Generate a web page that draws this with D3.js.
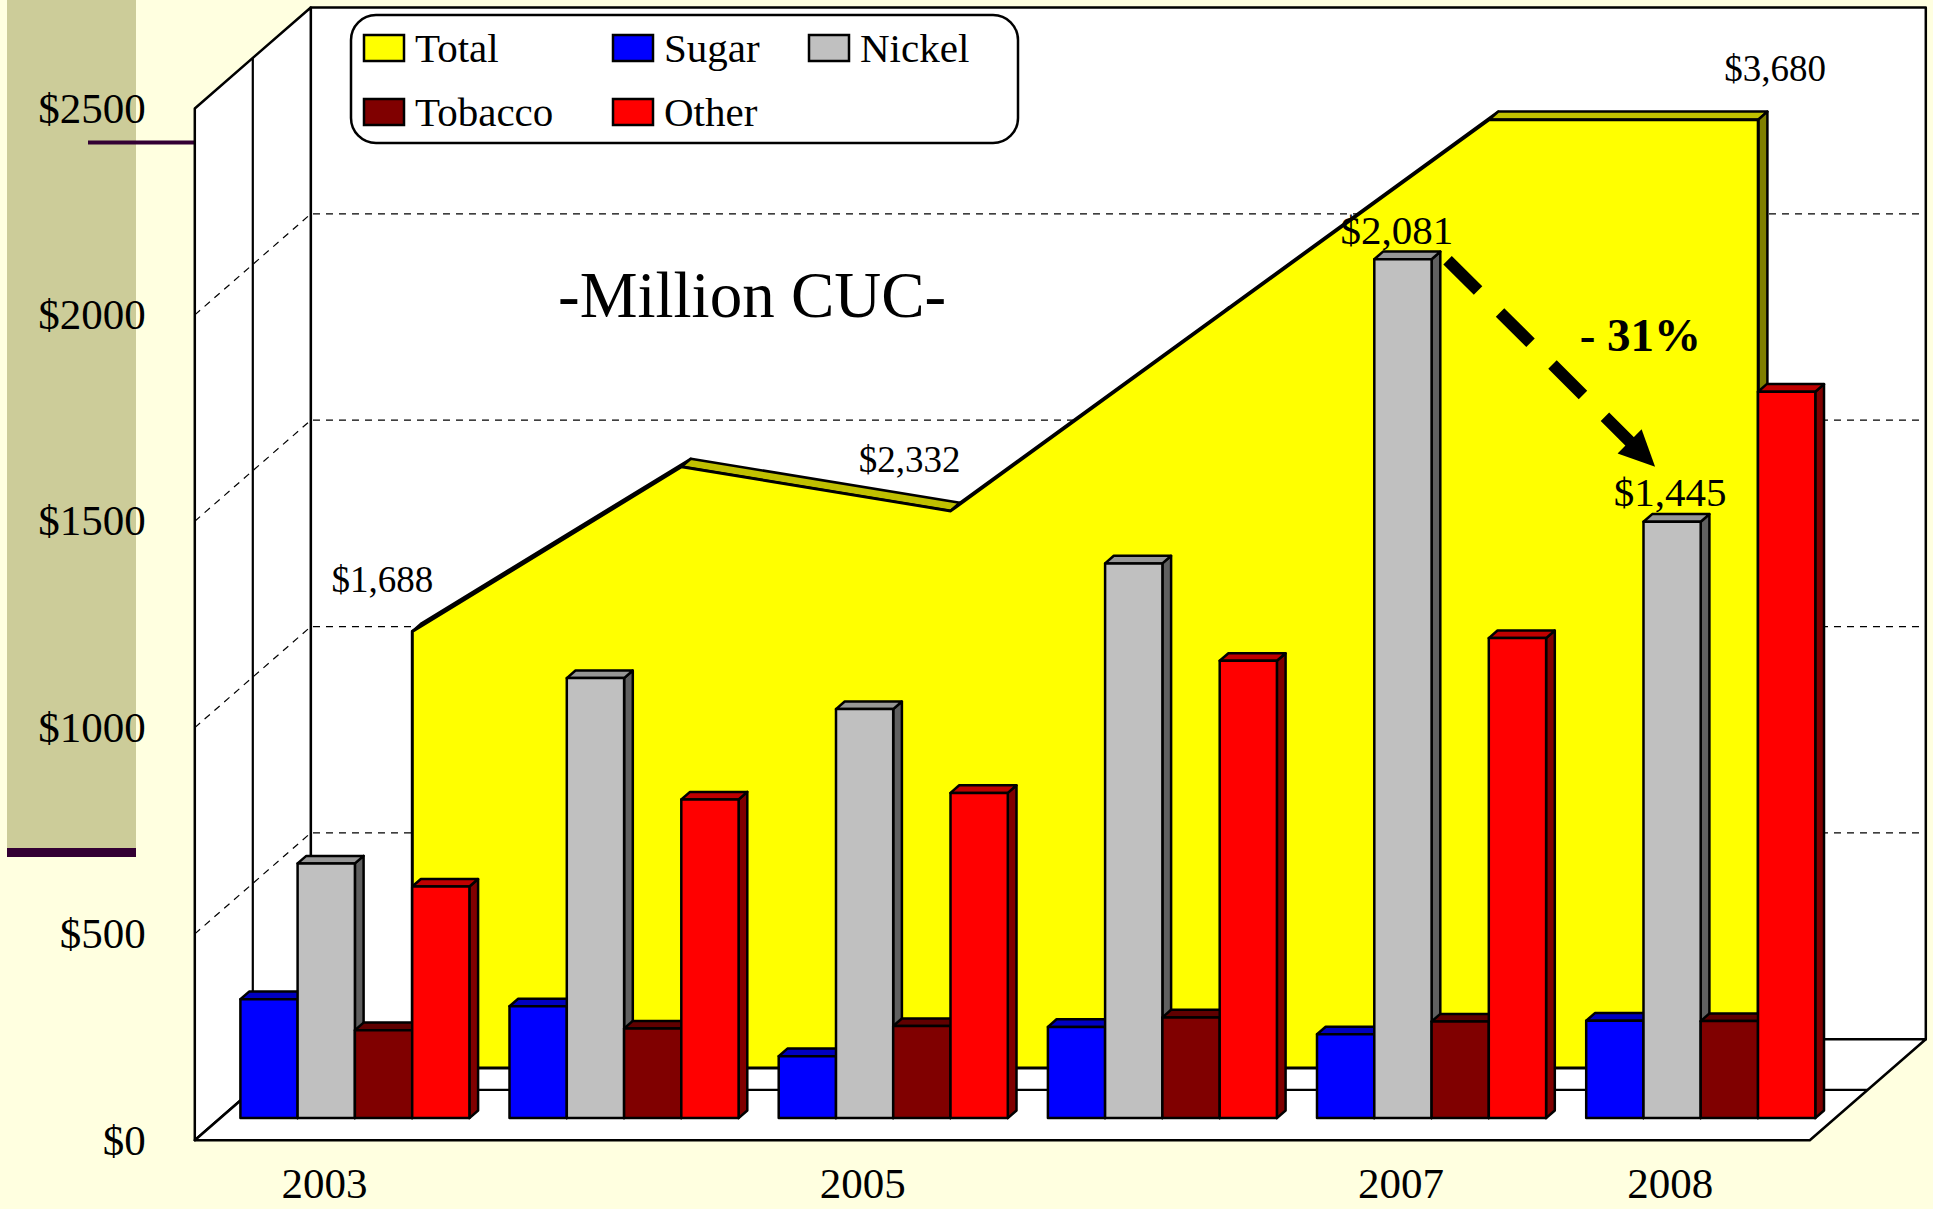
<!DOCTYPE html>
<html>
<head>
<meta charset="utf-8">
<script src="https://cdn.jsdelivr.net/npm/d3@7"></script>
<style>
body { margin: 0; background: #ffffe0; }
svg { display: block; }
text { font-family: "Liberation Serif", "Times New Roman", serif; fill: #000; }
</style>
</head>
<body>
<div class="mydiv"></div>
<script>
var width = 1933;
var height = 1209;

// data (million CUC)
var years = ["2003", "2004", "2005", "2006", "2007", "2008"];
var yearLabels = ["2003", "", "2005", "", "2007", "2008"];
var series = ["Sugar", "Nickel", "Tobacco", "Other"];
var sugar = [288, 271, 150, 221, 203, 236];
var nickel = [617, 1066, 991, 1344, 2081, 1445];
var tobacco = [213, 217, 223, 244, 234, 235];
var other = [561, 772, 788, 1108, 1163, 1760];
var total = [1058, 1457, 1350, 1824, 2298, 2298];
var totalLabels = ["$1,688", "", "$2,332", "", "", "$3,680"];
var yTicks = [0, 500, 1000, 1500, 2000, 2500];
var legendNames = ["Total", "Sugar", "Nickel", "Tobacco", "Other"];
var changeText = "- 31%";

// front / top / side colours
var colors = {
	Total: ["#ffff00", "#c0c000", "#808000"],
	Sugar: ["#0000ff", "#0000c0", "#000080"],
	Nickel: ["#c0c0c0", "#969696", "#606060"],
	Tobacco: ["#800000", "#600000", "#400000"],
	Other: ["#ff0000", "#c00000", "#800000"]
};
var values = { Sugar: sugar, Nickel: nickel, Tobacco: tobacco, Other: other };

// 3d frame
var DX = 116, DY = 101;
var xLeft = 194.8, xRight = 1809.8;

var xFront = d3.scaleBand().domain(years).range([xLeft, xRight])
	.paddingInner(0.149).paddingOuter(0.0745);
var xSeries = d3.scaleBand().domain(series).range([0, xFront.bandwidth()]);
var y = d3.scaleLinear().domain([0, 2500]).range([1140.3, 108.5]);

// point at category-x, value and depth fraction
function pt(x, v, f) {
	return [x + f * DX, y(v) - f * DY];
}
function poly(pts) {
	return pts.map(function(p) { return p[0].toFixed(1) + "," + p[1].toFixed(1); }).join(" ");
}

var svg = d3.select(".mydiv")
	.append("svg")
	.attr("width", width)
	.attr("height", height);

// slide background
svg.append("rect").attr("width", width).attr("height", height).attr("fill", "#ffffe0");
svg.append("rect").attr("x", 7).attr("y", 0).attr("width", 129).attr("height", 848).attr("fill", "#cccc99");
svg.append("rect").attr("x", 7).attr("y", 848).attr("width", 129).attr("height", 9).attr("fill", "#330033");
svg.append("rect").attr("x", 88).attr("y", 140.5).attr("width", 107).attr("height", 4).attr("fill", "#330033");

// walls and floor
var walls = [
	[pt(xLeft, 2500, 1), pt(xRight, 2500, 1), pt(xRight, 0, 1), pt(xLeft, 0, 1)],
	[pt(xLeft, 2500, 0), pt(xLeft, 2500, 1), pt(xLeft, 0, 1), pt(xLeft, 0, 0)],
	[pt(xLeft, 0, 0), pt(xRight, 0, 0), pt(xRight, 0, 1), pt(xLeft, 0, 1)]
];
svg.selectAll("polygon.wall")
	.data(walls)
	.enter()
	.append("polygon")
	.attr("class", "wall")
	.attr("points", poly)
	.attr("fill", "#fff")
	.attr("stroke", "#000")
	.attr("stroke-width", 2.5)
	.attr("stroke-linejoin", "round");

// dashed gridlines, back wall and left wall
var grid = yTicks.filter(function(d) { return d > 0 && d < 2500; });
grid.forEach(function(v) {
	var a = pt(xLeft, v, 0), b = pt(xLeft, v, 1), c = pt(xRight, v, 1);
	svg.append("polyline")
		.attr("points", poly([a, b, c]))
		.attr("fill", "none")
		.attr("stroke", "#000")
		.attr("stroke-width", 1.2)
		.attr("stroke-dasharray", "7,6");
});

// depth divider on side wall and floor
svg.append("polyline")
	.attr("points", poly([pt(xLeft, 2500, 0.5), pt(xLeft, 0, 0.5), pt(xRight, 0, 0.5)]))
	.attr("fill", "none")
	.attr("stroke", "#000")
	.attr("stroke-width", 2.2);

// Total area, back row
var fa = 0.715, fb = 0.795;
var areaPts = years.map(function(yr, i) {
	return { x: xFront(yr) + xFront.bandwidth() / 2, v: total[i] };
});
var areaTops = [];
for (var i = 0; i < areaPts.length - 1; i++) {
	var p = areaPts[i], q = areaPts[i + 1];
	areaTops.push([pt(p.x, p.v, fa), pt(q.x, q.v, fa), pt(q.x, q.v, fb), pt(p.x, p.v, fb)]);
}
var last = areaPts[areaPts.length - 1];
svg.selectAll("polygon.areatop")
	.data(areaTops)
	.enter()
	.append("polygon")
	.attr("class", "areatop")
	.attr("points", poly)
	.attr("fill", colors.Total[1])
	.attr("stroke", "#000")
	.attr("stroke-width", 2.5)
	.attr("stroke-linejoin", "round");
svg.append("polygon")
	.attr("points", poly([pt(last.x, 0, fa), pt(last.x, last.v, fa), pt(last.x, last.v, fb), pt(last.x, 0, fb)]))
	.attr("fill", colors.Total[2])
	.attr("stroke", "#000")
	.attr("stroke-width", 2.5)
	.attr("stroke-linejoin", "round");
var frontPts = [pt(areaPts[0].x, 0, fa)]
	.concat(areaPts.map(function(d) { return pt(d.x, d.v, fa); }))
	.concat([pt(last.x, 0, fa)]);
svg.append("polygon")
	.attr("points", poly(frontPts))
	.attr("fill", colors.Total[0])
	.attr("stroke", "#000")
	.attr("stroke-width", 3)
	.attr("stroke-linejoin", "round");

// bars, front row
var f0 = 0.22, f1 = 0.295;
var barData = [];
years.forEach(function(yr, i) {
	series.forEach(function(s) {
		var xl = xFront(yr) + xSeries(s);
		barData.push({ year: yr, name: s, xl: xl, xr: xl + xSeries.bandwidth(), v: values[s][i] });
	});
});

var bars = svg.selectAll("g.bar")
	.data(barData)
	.enter()
	.append("g")
	.attr("class", "bar")
	.attr("stroke", "#000")
	.attr("stroke-width", 2.5)
	.attr("stroke-linejoin", "round");
bars.append("polygon")
	.attr("points", function(d) {
		return poly([pt(d.xr, 0, f0), pt(d.xr, d.v, f0), pt(d.xr, d.v, f1), pt(d.xr, 0, f1)]);
	})
	.attr("fill", function(d) { return colors[d.name][2]; });
bars.append("polygon")
	.attr("points", function(d) {
		return poly([pt(d.xl, d.v, f0), pt(d.xr, d.v, f0), pt(d.xr, d.v, f1), pt(d.xl, d.v, f1)]);
	})
	.attr("fill", function(d) { return colors[d.name][1]; });
bars.append("polygon")
	.attr("points", function(d) {
		return poly([pt(d.xl, 0, f0), pt(d.xr, 0, f0), pt(d.xr, d.v, f0), pt(d.xl, d.v, f0)]);
	})
	.attr("fill", function(d) { return colors[d.name][0]; });

// axes
var yAxis = d3.axisLeft(y)
	.tickValues(yTicks)
	.tickSize(0)
	.tickPadding(49)
	.tickFormat(function(d) { return "$" + d; });
var gy = svg.append("g").attr("transform", "translate(" + xLeft + ",0)").call(yAxis);
gy.select(".domain").remove();
gy.selectAll("text").attr("font-size", 43).attr("font-family", null);

var xAxis = d3.axisBottom(xFront)
	.tickSize(0)
	.tickPadding(27)
	.tickFormat(function(d, i) { return yearLabels[i]; });
var gx = svg.append("g").attr("transform", "translate(0," + y(0) + ")").call(xAxis);
gx.select(".domain").remove();
gx.selectAll("text").attr("font-size", 43).attr("font-family", null).attr("dx", -5);

// legend
svg.append("rect")
	.attr("x", 351).attr("y", 15)
	.attr("width", 667).attr("height", 128)
	.attr("rx", 25).attr("ry", 25)
	.attr("fill", "#fff")
	.attr("stroke", "#000")
	.attr("stroke-width", 2.5);
var legCols = [364, 613, 809];
var legItems = svg.selectAll("g.leg")
	.data(legendNames)
	.enter()
	.append("g")
	.attr("class", "leg")
	.attr("transform", function(d, i) {
		return "translate(" + legCols[i % 3] + "," + (35 + Math.floor(i / 3) * 64) + ")";
	});
legItems.append("rect")
	.attr("width", 40).attr("height", 26)
	.attr("fill", function(d) { return colors[d][0]; })
	.attr("stroke", "#000")
	.attr("stroke-width", 2.5);
legItems.append("text")
	.attr("x", 51).attr("y", 27)
	.attr("font-size", 41)
	.text(function(d) { return d; });

// annotations
svg.append("text")
	.attr("x", 558).attr("y", 317)
	.attr("font-size", 65)
	.text("-Million CUC-");

var totalShift = [-30, 0, -41, 0, 0, 17];
svg.selectAll("text.total")
	.data(areaPts)
	.enter()
	.append("text")
	.attr("class", "total")
	.attr("x", function(d, i) { return pt(d.x, d.v, fa)[0] + totalShift[i]; })
	.attr("y", function(d) { return pt(d.x, d.v, fa)[1] - 52; })
	.attr("dy", "0.35em")
	.attr("text-anchor", "middle")
	.attr("font-size", 37)
	.text(function(d, i) { return totalLabels[i]; });

var nickelBars = barData.filter(function(d) {
	return d.name === "Nickel" && (d.year === "2007" || d.year === "2008");
});
var fmt = d3.format("$,");
svg.selectAll("text.nick")
	.data(nickelBars)
	.enter()
	.append("text")
	.attr("class", "nick")
	.attr("x", function(d, i) { return pt((d.xl + d.xr) / 2, d.v, f0)[0] - (i === 0 ? 6 : 2); })
	.attr("y", function(d) { return pt(d.xl, d.v, f0)[1] - 30; })
	.attr("dy", "0.35em")
	.attr("text-anchor", "middle")
	.attr("font-size", 41)
	.text(function(d) { return fmt(d.v); });

// dashed arrow from 2007 nickel to 2008 nickel
var from = pt(nickelBars[0].xr, nickelBars[0].v, f0);
var to = pt((nickelBars[1].xl + nickelBars[1].xr) / 2, nickelBars[1].v, f0);
var start = [from[0] + 16, from[1] + 1];
var tip = [to[0] - 17, to[1] - 55];
var ang = Math.atan2(tip[1] - start[1], tip[0] - start[0]);
var headLen = 36, headW = 17;
var base = [tip[0] - headLen * Math.cos(ang), tip[1] - headLen * Math.sin(ang)];
svg.append("line")
	.attr("x1", start[0]).attr("y1", start[1])
	.attr("x2", base[0] + 2 * Math.cos(ang)).attr("y2", base[1] + 2 * Math.sin(ang))
	.attr("stroke", "#000")
	.attr("stroke-width", 12)
	.attr("stroke-dasharray", "43,31");
svg.append("polygon")
	.attr("points", poly([
		tip,
		[base[0] + headW * Math.sin(ang), base[1] - headW * Math.cos(ang)],
		[base[0] - headW * Math.sin(ang), base[1] + headW * Math.cos(ang)]
	]))
	.attr("fill", "#000");

var mid = [(start[0] + tip[0]) / 2, (start[1] + tip[1]) / 2];
svg.append("text")
	.attr("x", mid[0] + 89).attr("y", mid[1] - 29)
	.attr("dy", "0.35em")
	.attr("text-anchor", "middle")
	.attr("font-size", 47)
	.attr("font-weight", "bold")
	.text(changeText);
</script>
</body>
</html>
